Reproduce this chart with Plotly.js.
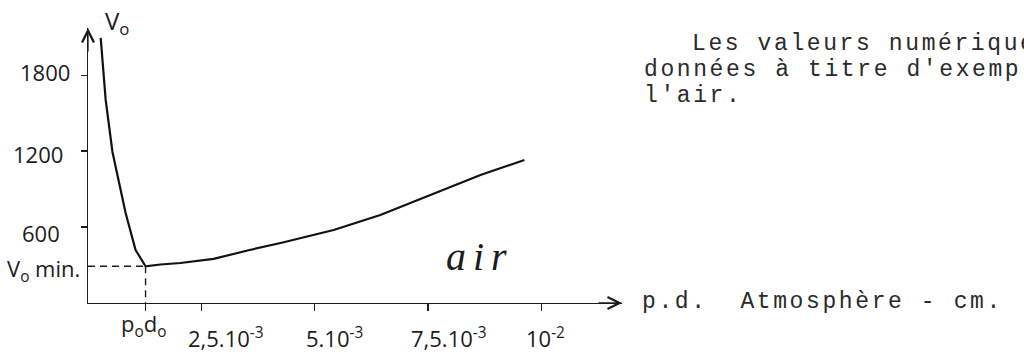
<!DOCTYPE html>
<html>
<head>
<meta charset="utf-8">
<script src="https://cdn.plot.ly/plotly-3.0.1.min.js"></script>
<style>
  html, body { margin: 0; padding: 0; background: #ffffff; }
  #chart { width: 1024px; height: 355px; }
  /* typewriter spacing for the typed note, looser hand lettering for the curve name */
  text.annotation-text[style*="Liberation Mono"] { letter-spacing: 2.6px; }
  text.annotation-text[style*="Liberation Serif"] { letter-spacing: 7px; }
</style>
</head>
<body>
<div id="chart"></div>
<script>
// Paschen curve for air: sparking voltage V0 against the product p.d (atm·cm)
const pdAtmCm = [0.28e-3, 0.34e-3, 0.39e-3, 0.54e-3, 0.67e-3, 0.83e-3, 1.05e-3, 1.16e-3,
                 1.27e-3, 1.60e-3, 2.04e-3, 2.77e-3, 3.52e-3, 4.25e-3, 5.42e-3, 6.45e-3,
                 7.93e-3, 8.66e-3, 9.63e-3];
const sparkVolts = [2094, 1801, 1604, 1193, 988, 711, 419, 356,
                    290, 304, 316, 348, 415, 474, 577, 695,
                    909, 1011, 1130];

// minimum of the curve
const P0D0 = 1.27e-3;
const VMIN = 290;

const xTickVals = [2.5e-3, 5e-3, 7.5e-3, 1e-2];
const xTickLabels = ['2,5.10<sup>-3</sup>', '5.10<sup>-3</sup>', '7,5.10<sup>-3</sup>', '10<sup>-2</sup>'];
const yTickVals = [600, 1200, 1800];
const yTickLabels = ['600', '1200', '1800'];

const noteLines = ['Les valeurs numériques sont', 'données à titre d\'exemple pour', 'l\'air.'];
const axisUnitText = 'p.d.\u00a0\u00a0Atmosphère - cm.';

// frame geometry
const W = 1024, H = 355;
const M = { l: 88, r: 402, t: 28, b: 52 };
const PW = W - M.l - M.r, PH = H - M.t - M.b;
const X_MAX = 0.011783, Y_MAX = 2172;
const px = v => (v - M.l) / PW;          // page x -> paper x
const py = v => (H - M.b - v) / PH;      // page y -> paper y

const INK = '#1c1c1c';
const HAND = { family: 'Open Sans, DejaVu Sans, sans-serif', size: 22, color: INK };
const TYPE = { family: 'Liberation Mono, DejaVu Sans Mono, monospace', size: 23, color: '#2a2a2a' };

const annotations = [];

// y tick labels
const yNudge = [[-26, -6], [-23, -3], [-16, 3]];
yTickVals.forEach((v, i) => {
  annotations.push({ xref: 'paper', yref: 'y', x: 0, y: v, text: yTickLabels[i], showarrow: false,
    xanchor: 'right', yanchor: 'middle', xshift: yNudge[i][0], yshift: yNudge[i][1], font: HAND });
});
annotations.push({ xref: 'paper', yref: 'y', x: 0, y: VMIN, text: 'V<sub>o</sub> min.', showarrow: false,
  xanchor: 'right', yanchor: 'middle', xshift: -6, yshift: -4, font: HAND });

// x tick labels
const xNudge = [-15, -11, -19, -17];
xTickVals.forEach((v, i) => {
  annotations.push({ xref: 'x', yref: 'paper', x: v, y: 0, text: xTickLabels[i], showarrow: false,
    xanchor: 'left', yanchor: 'middle', xshift: xNudge[i], yshift: -34, font: HAND });
});
annotations.push({ xref: 'x', yref: 'paper', x: P0D0, y: 0, text: 'p<sub>o</sub>d<sub>o</sub>', showarrow: false,
  xanchor: 'center', yanchor: 'middle', xshift: -2, yshift: -22, font: HAND });

// axis titles
annotations.push({ xref: 'paper', yref: 'paper', x: 0, y: 1, text: 'V<sub>o</sub>', showarrow: false,
  xanchor: 'left', yanchor: 'middle', xshift: 15, yshift: 6, font: Object.assign({}, HAND, { size: 24 }) });
annotations.push({ xref: 'paper', yref: 'paper', x: px(640), y: py(302), text: axisUnitText, showarrow: false,
  xanchor: 'left', yanchor: 'middle', font: TYPE });

// curve name
annotations.push({ xref: 'x', yref: 'y', x: 8.66e-3, y: 371, text: 'air', showarrow: false,
  xanchor: 'center', yanchor: 'middle',
  font: { family: 'Liberation Serif, serif', size: 40, color: INK, style: 'italic' } });

// typed note
const noteX = [690, 642, 642], noteY = [44, 70, 96];
noteLines.forEach((t, i) => {
  annotations.push({ xref: 'paper', yref: 'paper', x: px(noteX[i]), y: py(noteY[i]), text: t, showarrow: false,
    xanchor: 'left', yanchor: 'middle', font: TYPE });
});

// axis arrowheads
annotations.push({ xref: 'x', yref: 'y', x: 0, y: Y_MAX, ax: 0, ay: 25, text: '', showarrow: true,
  arrowhead: 5, arrowsize: 1.8, arrowwidth: 1.3, arrowcolor: INK, standoff: 0 });
annotations.push({ xref: 'x', yref: 'y', x: X_MAX, y: 0, ax: -25, ay: 0, text: '', showarrow: true,
  arrowhead: 5, arrowsize: 1.8, arrowwidth: 1.3, arrowcolor: INK, standoff: 0 });

const shapes = [
  { type: 'line', xref: 'x', yref: 'y', x0: 0, x1: P0D0, y0: VMIN, y1: VMIN,
    line: { color: INK, width: 1.4, dash: '7px,5px' } },
  { type: 'line', xref: 'x', yref: 'y', x0: P0D0, x1: P0D0, y0: VMIN, y1: 0,
    line: { color: INK, width: 1.4, dash: '7px,5px' } }
];

const trace = {
  x: pdAtmCm, y: sparkVolts, type: 'scatter', mode: 'lines',
  line: { color: '#111111', width: 2.2, shape: 'linear' },
  hoverinfo: 'skip', cliponaxis: false
};

const layout = {
  width: W, height: H,
  margin: { l: M.l, r: M.r, t: M.t, b: M.b, pad: 0 },
  paper_bgcolor: '#ffffff', plot_bgcolor: '#ffffff',
  showlegend: false,
  xaxis: { range: [0, X_MAX], showgrid: false, zeroline: false, showline: true, linecolor: INK, linewidth: 1.3,
    tickvals: [P0D0].concat(xTickVals), ticks: 'outside', ticklen: 7, tickwidth: 1.2, tickcolor: INK,
    showticklabels: false, automargin: false, fixedrange: true },
  yaxis: { range: [0, Y_MAX], showgrid: false, zeroline: false, showline: true, linecolor: INK, linewidth: 1.3,
    tickvals: yTickVals, ticks: 'outside', ticklen: 6, tickwidth: 1.2, tickcolor: INK,
    showticklabels: false, automargin: false, fixedrange: true },
  annotations: annotations,
  shapes: shapes
};

Plotly.newPlot('chart', [trace], layout, { staticPlot: true, displayModeBar: false });
</script>
</body>
</html>
